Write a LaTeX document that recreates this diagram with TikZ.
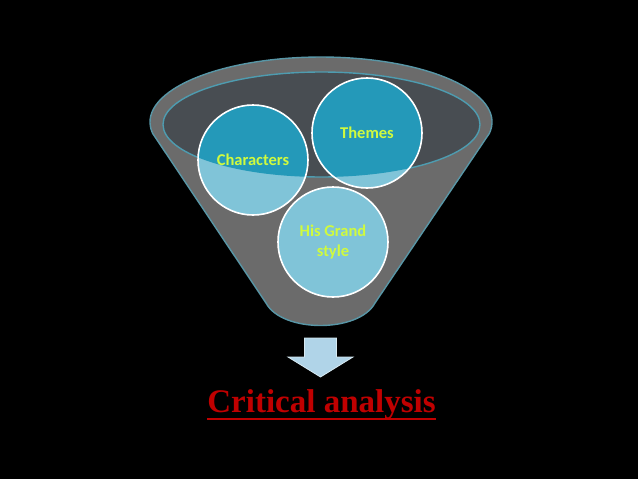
\documentclass[tikz,border=0pt]{standalone}
\usepackage{fontspec}
\setmainfont{Liberation Serif}
\newfontfamily\calibri{Carlito}
\usetikzlibrary{positioning}
\definecolor{funnelgray}{RGB}{107,107,107}
\definecolor{funneledge}{RGB}{88,150,166}
\definecolor{rimgray}{RGB}{72,77,82}
\definecolor{rimedge}{RGB}{78,156,176}
\definecolor{lightteal}{RGB}{128,196,216}
\definecolor{darkteal}{RGB}{36,153,185}
\definecolor{textlime}{RGB}{208,250,62}
\definecolor{arrowblue}{RGB}{176,212,232}
\definecolor{critred}{RGB}{192,0,0}

\begin{document}
\begin{tikzpicture}[
  x=1pt, y=-1pt,
  bubble/.style={circle, draw=white, line width=1.6pt, minimum size=110pt, inner sep=0pt,
    align=center, font=\calibri\bfseries\fontsize{16.5}{20}\selectfont, text=textlime},
  blockarrow/.style={fill=arrowblue, draw=arrowblue!50!white, line width=0.8pt},
  title/.style={font=\bfseries\fontsize{33}{36}\selectfont, text=critred, inner sep=0pt}
]
  % Background and page size
  \fill[black] (0,0) rectangle (638,479);
  \useasboundingbox (0,0) rectangle (638,479);

  % Funnel body with its top rim
  \draw[fill=funnelgray, draw=funneledge, line width=1.4pt]
    (489.4,133.3) arc[start angle=10, end angle=-190, x radius=171, y radius=65]
    -- (266,303) .. controls (282,333) and (359,333) .. (375,303) -- cycle;
  \draw[fill=rimgray, draw=rimedge, line width=1.4pt] (321.5,124.5) ellipse[x radius=158.5, y radius=52.5];

  % Bubble centres
  \coordinate (pchar) at (253,160);
  \coordinate (ptheme) at (367,133);
  \coordinate (pgrand) at (333,242);

  % Light fill, darker where the bubbles sit inside the rim
  \foreach \p in {pchar, ptheme, pgrand}
    \fill[lightteal] (\p) circle[radius=55];
  \begin{scope}
    \clip (321.5,124.5) ellipse[x radius=158.5, y radius=52.5];
    \foreach \p in {pchar, ptheme}
      \fill[darkteal] (\p) circle[radius=55];
  \end{scope}

  % Bubbles
  \node[bubble] (char) at (pchar) {Characters};
  \node[bubble] (theme) at (ptheme) {Themes};
  \node[bubble] (grand) at (pgrand) {His Grand\\style};

  % Arrow and result
  \draw[blockarrow] (304.5,338) -- (336.5,338) -- (336.5,357) -- (353,357) -- (320.5,377)
    -- (288,357) -- (304.5,357) -- cycle;
  \node[title, anchor=base] (crit) at (321.5,412) {Critical analysis};
  \draw[critred, line width=2.6pt] ([yshift=-7pt]crit.base west) -- ([yshift=-7pt]crit.base east);
\end{tikzpicture}
\end{document}
